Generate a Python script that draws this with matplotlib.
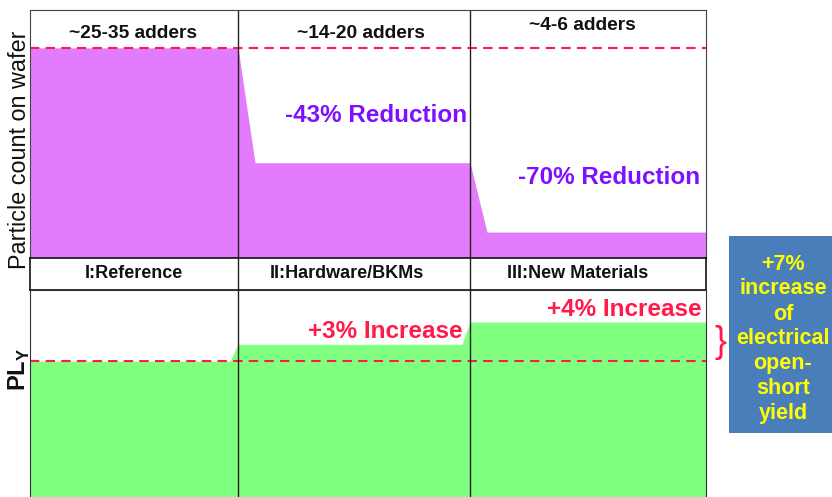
import matplotlib.pyplot as plt
from matplotlib.patches import Rectangle

stages = ["I:Reference", "II:Hardware/BKMs", "III:New Materials"]
adders = ["~25-35 adders", "~14-20 adders", "~4-6 adders"]
particle_level = [30, 13.6, 3.7]
yield_level = [100, 103, 107]
reductions = ["-43% Reduction", "-70% Reduction"]
increases = ["+3% Increase", "+4% Increase"]
note = "+7%\nincrease\nof\nelectrical\nopen-\nshort\nyield"

plt.rcParams['font.family'] = ['Liberation Sans', 'DejaVu Sans']

W, H = 832, 497
col_edges = [30, 238, 470, 706]
magenta = '#e27cfc'
green = '#80ff80'
red = '#ff1a4a'
purple = '#7f10ff'


def fx(px):
    return px / W


def fy(py):
    return 1 - py / H


fig = plt.figure(figsize=(W / 100, H / 100), dpi=100)

# top panel: particle count
ax_top = fig.add_axes([fx(30), fy(258), (706 - 30) / W, (258 - 10) / H])
ax_top.set_xlim(col_edges[0], col_edges[-1])
ax_top.set_ylim(0, 35.4)
xs = [col_edges[0]]
ys = [particle_level[0]]
for i, v in enumerate(particle_level):
    left = col_edges[i] + (17 if i > 0 else 0)
    xs += [left, col_edges[i + 1]]
    ys += [v, v]
ax_top.fill_between(xs, ys, 0, color=magenta, lw=0)
ax_top.axhline(particle_level[0], color=red, lw=1.5, dashes=(4.5, 3))
for e in col_edges[1:-1]:
    ax_top.axvline(e, color='#222222', lw=1)
ax_top.set_xticks([])
ax_top.set_yticks([])
for s in ax_top.spines.values():
    s.set_color('#444444')
ax_top.spines['bottom'].set_visible(False)

# label band
ax_mid = fig.add_axes([fx(30), fy(290), (706 - 30) / W, 32 / H])
ax_mid.set_xlim(col_edges[0], col_edges[-1])
ax_mid.set_ylim(0, 1)
for e in col_edges[1:-1]:
    ax_mid.axvline(e, color='#222222', lw=1)
ax_mid.set_xticks([])
ax_mid.set_yticks([])
for s in ax_mid.spines.values():
    s.set_color('#111111')
    s.set_linewidth(1.2)

# bottom panel: yield
ax_bot = fig.add_axes([fx(30), 0, (706 - 30) / W, (497 - 290) / H])
ax_bot.set_xlim(col_edges[0], col_edges[-1])
ax_bot.set_ylim(75.6, 112.75)
xs = [col_edges[0]]
ys = [yield_level[0]]
for i, v in enumerate(yield_level):
    right = col_edges[i + 1] - (8 if i < len(yield_level) - 1 else 0)
    xs += [col_edges[i] if i > 0 else col_edges[0], right]
    ys += [v, v]
ax_bot.fill_between(xs, ys, 75.6, color=green, lw=0)
ax_bot.axhline(yield_level[0], color=red, lw=1.5, dashes=(4.5, 3))
for e in col_edges[1:-1]:
    ax_bot.axvline(e, color='#222222', lw=1)
ax_bot.set_xticks([])
ax_bot.set_yticks([])
for s in ax_bot.spines.values():
    s.set_color('#333333')
ax_bot.spines['bottom'].set_visible(False)

# texts
for t, px, py in zip(adders, [133, 361, 582], [34, 33, 25]):
    fig.text(fx(px), fy(py), t, ha='center', va='center', fontsize=13.8, fontweight='bold', color='#111111')
for t, px in zip(stages, [134, 347, 578]):
    fig.text(fx(px), fy(273), t, ha='center', va='center', fontsize=13, fontweight='bold', color='#111111')
for t, px, py in zip(reductions, [376, 609], [116, 177]):
    fig.text(fx(px), fy(py), t, ha='center', va='center', fontsize=17.5, fontweight='bold', color=purple)
for t, px, py in zip(increases, [385, 624], [331, 310]):
    fig.text(fx(px), fy(py), t, ha='center', va='center', fontsize=17.5, fontweight='bold', color=red)

fig.text(fx(20), fy(150), "Particle count on wafer", rotation=90, ha='center', va='center', fontsize=16.8, color='#111111')
fig.text(fx(19), fy(369), r"PL$_\mathregular{Y}$", rotation=90, ha='center', va='center', fontsize=17, fontweight='bold', color='#111111')

fig.text(fx(720), fy(343), "}", ha='center', va='center', fontsize=26, color=red, fontweight='light')

fig.patches.append(Rectangle((fx(729), fy(433)), (835 - 729) / W, (433 - 236) / H,
                             transform=fig.transFigure, facecolor='#4a7ebb', edgecolor='none'))
fig.text(fx(783), fy(339), note, ha='center', va='center', fontsize=15.5, fontweight='bold',
         color='#ffff00', linespacing=1.25)

fig.savefig('out.png', dpi=100)
